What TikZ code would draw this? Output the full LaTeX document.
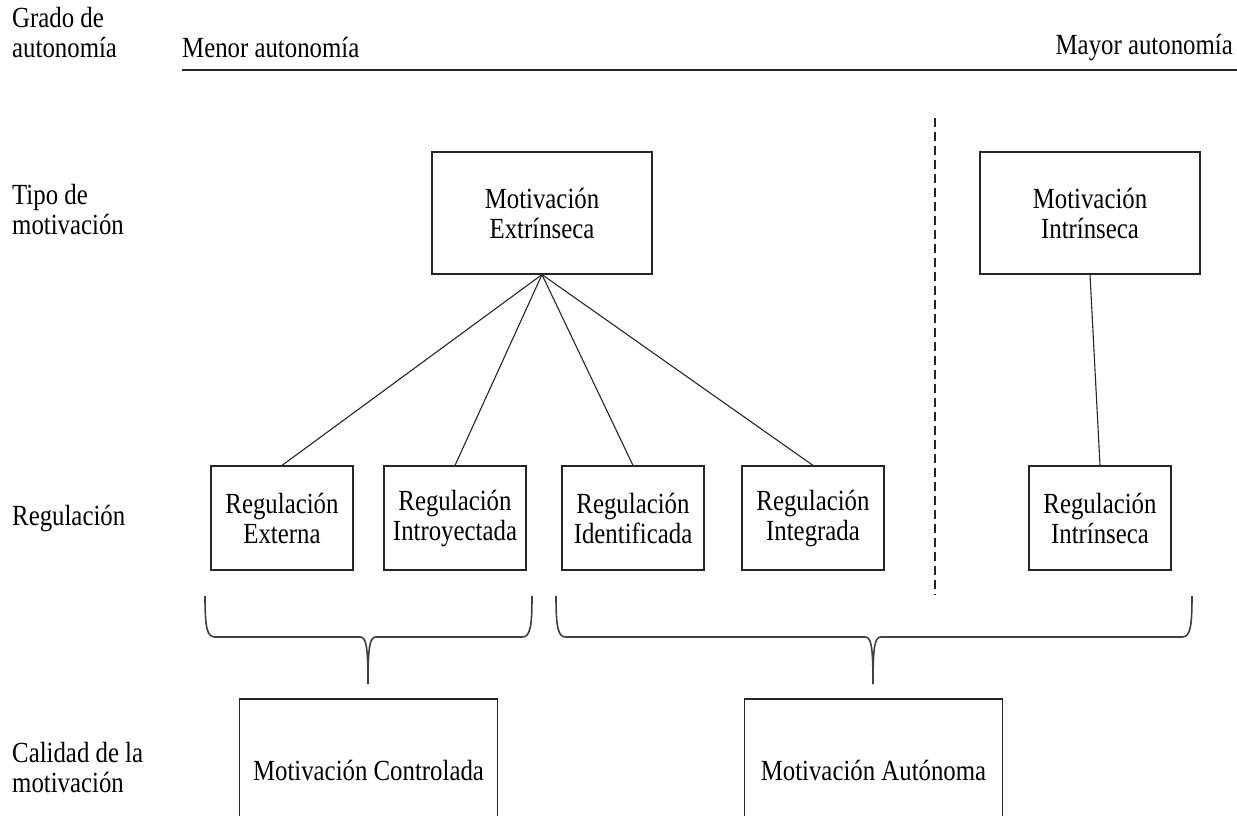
\documentclass[tikz,border=0pt]{standalone}
\usepackage{fontspec}
\setmainfont{Liberation Serif}[FakeStretch=0.85]
\begin{document}
\begin{tikzpicture}[x=1pt,y=-1pt,
  every node/.style={font=\fontsize{29.2}{30}\selectfont, inner sep=0pt},
  box/.style={draw=black!85, line width=1.2pt, align=center},
  regbox/.style={box, minimum width=142pt, minimum height=104pt},
  topbox/.style={box, minimum width=220pt, minimum height=122pt},
  lowbox/.style={box, minimum width=258pt, minimum height=142pt},
  lbl/.style={anchor=west, align=left},
  link/.style={draw=black!85, line width=1.1pt},
  brace/.style={draw=black!75, line width=1.6pt}]
\useasboundingbox (0,0) rectangle (1237,816);
\clip (0,0) rectangle (1237,816);

% row labels
\node[lbl] (grado) at (12,33) {Grado de\\autonomía};
\node[lbl] (tipo) at (12,210) {Tipo de\\motivación};
\node[lbl] (reg) at (12,518) {Regulación};
\node[lbl] (cal) at (12,768) {Calidad de la\\motivación};

% autonomy axis
\node[anchor=west] (menor) at (182,47) {Menor autonomía};
\node[anchor=east] (mayor) at (1233,47) {Mayor autonomía};
\coordinate (axisL) at (182,70);
\coordinate (axisR) at (1237,70);
\draw[link] (axisL) -- (axisR);

% type of motivation
\node[topbox] (ext) at (542,213) {Motivación\\Extrínseca};
\node[topbox] (int) at (1090,213) {Motivación\\Intrínseca};

% regulation styles
\node[regbox] (rext) at (282,518) {Regulación\\Externa};
\node[regbox] (rintro) at (455,518) {Regulación\\Introyectada};
\node[regbox] (rident) at (633,518) {Regulación\\Identificada};
\node[regbox] (rinteg) at (813,518) {Regulación\\Integrada};
\node[regbox] (rintr) at (1100,518) {Regulación\\Intrínseca};

\draw[link] (ext.south) -- (rext.north);
\draw[link] (ext.south) -- (rintro.north);
\draw[link] (ext.south) -- (rident.north);
\draw[link] (ext.south) -- (rinteg.north);
\draw[link] (int.south) -- (rintr.north);

% boundary between extrinsic and intrinsic
\coordinate (divT) at (935,118);
\coordinate (divB) at (935,595);
\draw[link, dash pattern=on 9pt off 5pt] (divT) -- (divB);

% quality of motivation
\node[lowbox] (ctrl) at (368.5,770) {Motivación Controlada};
\node[lowbox] (auto) at (873.5,770) {Motivación Autónoma};

% braces
\coordinate (la) at (205,596);
\coordinate (lb) at (532,596);
\coordinate (ltip) at (368,684);
\draw[brace] (la) .. controls (205,628) and (207,637) .. (215,637) -- (360,637)
  .. controls (366,637) and (368,645) .. (ltip);
\draw[brace] (lb) .. controls (532,628) and (530,637) .. (522,637) -- (376,637)
  .. controls (370,637) and (368,645) .. (ltip);

\coordinate (ra) at (556,596);
\coordinate (rb) at (1192,596);
\coordinate (rtip) at (873,684);
\draw[brace] (ra) .. controls (556,628) and (558,637) .. (566,637) -- (865,637)
  .. controls (871,637) and (873,645) .. (rtip);
\draw[brace] (rb) .. controls (1192,628) and (1190,637) .. (1182,637) -- (881,637)
  .. controls (875,637) and (873,645) .. (rtip);
\end{tikzpicture}
\end{document}
